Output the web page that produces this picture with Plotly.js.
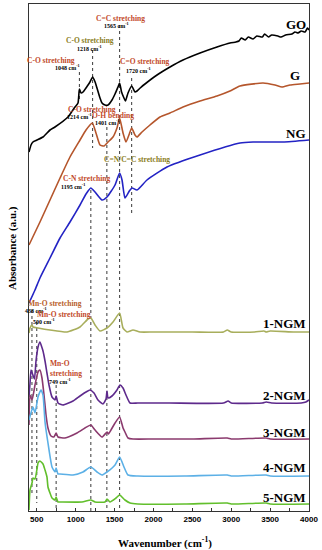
<!DOCTYPE html>
<html><head><meta charset="utf-8">
<script src="https://cdn.plot.ly/plotly-3.0.1.min.js"></script>
<style>html,body{margin:0;padding:0;background:#fff;} #chart{width:322px;height:550px;}</style>
</head><body><div id="chart"></div>
<script>
// ---- data (wavenumber in cm-1, absorbance in arbitrary units) ----
const goWn  = [400,426,451,580,670,734,901,991,1030,1048,1070,1094,1150,1184,1218,1250,1274,1313,1339,1377,1416,1467,1506,1544,1565,1590,1621,1640,1673,1720,1763,1789,1830,1891,2046,2213,2380,2599,2817,2984,3060,3100,3130,3180,3220,3280,3330,3400,3430,3480,3520,3600,3640,3700,3780,3820,3860,3900,3950,3980,4000];
const goAbs = [359,366,369,374,381,384,394,404,408,422,418,419,425,429,434,429,423,413,408,406,406,411,417,424,428,419,413,410,418,425,419,420,423,427,436,444,451,458,464,468,469,470,473,471,474,472,475,474,477,474,476,475,474,476,477,479,478,480,479,483,481];

const gWn  = [400,541,670,799,927,1056,1133,1214,1261,1313,1364,1416,1480,1531,1565,1609,1647,1690,1720,1763,1789,1853,1956,2084,2213,2380,2599,2817,2984,3113,3409,3563,3653,3756,3884,4000];
const gAbs = [266,289,311,333,354,371,381,388,378,366,365,369,374,383,393,378,369,377,383,376,374,379,386,394,398,404,410,415,420,425,428,426,424,426,427,428];

const ngWn  = [400,477,541,670,799,927,1056,1133,1195,1249,1339,1403,1506,1565,1596,1634,1690,1724,1789,1917,2174,2599,3113,3280,3666,4000];
const ngAbs = [208,221,233,253,273,289,306,317,323,319,311,314,326,338,331,313,320,323,321,331,344,356,368,369,369,371];

const ngm1Wn  = [400,413,439,451,516,670,889,1056,1159,1195,1249,1313,1403,1480,1565,1609,1660,1737,1827,2000,2500,2900,2950,3000,3300,3420,3450,3500,3800,4000];
const ngm1Abs = [178,183,186,184,183,181,179,184,192,193,186,180,183,189,198,183,179,181,179,179,179,179,181,179,179,180,179,180,179,179];

const ngm2Wn  = [400,413,426,445,470,490,516,541,560,580,606,631,657,696,734,749,773,837,966,1056,1133,1184,1236,1287,1351,1390,1403,1416,1467,1531,1570,1609,1647,1699,1800,2200,2900,2960,3000,3400,3450,3520,3900,3960,4000];
const ngm2Abs = [114,128,141,137,132,150,164,169,165,160,150,138,126,114,111,115,108,106,110,115,119,121,118,111,107,112,120,113,115,121,126,123,116,108,108,108,108,110,108,108,109,108,108,109,111];

const ngm3Wn  = [400,413,439,477,516,541,567,593,619,644,683,720,749,773,863,1017,1120,1195,1249,1339,1390,1405,1420,1506,1565,1609,1634,1673,1737,2000,2500,2950,3000,3450,3500,4000];
const ngm3Abs = [86,116,111,126,139,141,133,116,96,83,75,74,78,74,73,78,83,86,81,74,78,79,77,88,94,83,79,73,72,72,72,73,72,73,72,72];

const ngm4Wn  = [400,451,477,516,554,580,606,644,696,734,749,773,799,966,1094,1195,1274,1339,1403,1506,1565,1621,1673,1800,2400,2950,3000,3450,3500,4000];
const ngm4Abs = [91,104,98,114,121,116,89,68,44,39,43,37,37,36,39,44,39,36,39,46,54,44,36,35,35,36,35,36,35,35];

const ngm5Wn  = [400,413,439,451,477,503,516,541,580,606,631,644,670,696,734,749,773,799,1081,1195,1249,1377,1403,1441,1519,1565,1634,1699,1800,2400,2950,3000,3450,3500,4000];
const ngm5Abs = [1,21,28,33,32,42,48,50,47,41,34,24,18,13,11,14,9,9,9,11,9,9,12,9,13,16,11,8,7,7,8,7,8,7,7];

// reference (dotted) lines: wavenumber, upper and lower absorbance extent
const refWn     = [1048,1218,1565,1720,1401,1195,438,500,749];
const refTop    = [439,461,486,433,384,321,201,189,126];
const refBottom = [411,363,0,296,0,0,18,8,0];

const seriesNames = ['GO','G','NG','1-NGM','2-NGM','3-NGM','4-NGM','5-NGM'];
// ---------------------------------------------------------------

const colors = ['#000000','#b5562c','#2323c4','#a8ae5c','#5e2a8c','#8b3a6e','#5cb0e6','#62bf2c'];
const xs = [goWn,gWn,ngWn,ngm1Wn,ngm2Wn,ngm3Wn,ngm4Wn,ngm5Wn];
const ys = [goAbs,gAbs,ngAbs,ngm1Abs,ngm2Abs,ngm3Abs,ngm4Abs,ngm5Abs];

const traces = [];
refWn.forEach((w,i)=>{
  traces.push({x:[w,w], y:[refTop[i],refBottom[i]], mode:'lines', hoverinfo:'skip',
    line:{color:'#222', width:0.9, dash:'dot'}, showlegend:false});
});
seriesNames.forEach((n,i)=>{
  traces.push({x:xs[i], y:ys[i], name:n, mode:'lines',
    line:{color:colors[i], width:1.6, shape:'spline', smoothing:0.5}, showlegend:false});
});

const serif = 'Liberation Serif, Times New Roman, serif';
const ann = [];
// curve labels
const labelVals = [487,436,378,188,116,79,44,14];
const labelShift = [-1,-7,-1,-1,-1,-1,-1,-1];
seriesNames.forEach((n,i)=>{
  ann.push({xref:'paper', x:1, xanchor:'right', xshift:labelShift[i], y:labelVals[i], yref:'y', yanchor:'middle',
    text:'<b>'+n+'</b>', showarrow:false, font:{family:serif, size:13, color:'#000'}});
});
const red = '#c24a2a', olive = '#8a7d22';
function note(t, x, y, c, s){
  ann.push({x:x, y:y, xref:'x', yref:'y', xanchor:'center', yanchor:'middle', showarrow:false,
    text:'<b>'+t+'</b>', font:{family:serif, size:s, color:c}});
}
const cm = ' cm<sup>-1</sup>';
note('C=C stretching', 1576, 493, red, 7.5);
note('1565'+cm, 1519, 486, '#000', 6);
note('C-O stretching', 1184, 471, olive, 7.5);
note('1218'+cm, 1184, 463.5, '#000', 6);
note('C-O stretching', 683, 451, red, 7.5);
note('1048'+cm, 895, 444, '#000', 6);
note('C=O stretching', 1891, 450, red, 7.5);
note('1720'+cm, 1808, 441, '#000', 6);
note('C-O stretching', 1204, 402, red, 7.5);
note('1214'+cm, 1043, 395, '#000', 6);
note('O-H bending', 1480, 396, red, 7.5);
note('1401'+cm, 1409, 389, '#000', 6);
note('C=N/C=C stretching', 1788, 352, olive, 7.5);
note('C-N stretching', 1140, 333, red, 7.5);
note('1195'+cm, 972, 325, '#000', 6);
note('Mn-O stretching', 734, 208, '#b8602a', 7.5);
note('438'+cm, 496, 201.5, '#000', 6);
note('Mn-O stretching', 850, 197, red, 7.5);
note('500'+cm, 593, 190, '#000', 6);
note('Mn-O', 799, 148, red, 7.5);
note('stretching', 876, 138, red, 7.5);
note('749'+cm, 799, 130, '#000', 6);
// axis titles
ann.push({xref:'paper', yref:'paper', x:0.5, y:0, xshift:-4, yshift:-31, xanchor:'center', yanchor:'middle',
  showarrow:false, text:'<b>Wavenumber (cm<sup>-1</sup>)</b>', font:{family:serif, size:11, color:'#000'}});
ann.push({xref:'paper', yref:'y', x:0, y:263, xshift:-17, xanchor:'center', yanchor:'middle', textangle:-90,
  showarrow:false, text:'<b>Absorbance (a.u.)</b>', font:{family:serif, size:11, color:'#000'}});

const layout = {
  width:322, height:550,
  margin:{l:29, r:13, t:4, b:39, pad:0},
  paper_bgcolor:'#fff', plot_bgcolor:'#fff',
  showlegend:false,
  xaxis:{range:[400,4000], dtick:500, tick0:0, ticks:'inside', ticklen:3, tickwidth:1, tickcolor:'#333',
    minor:{dtick:250, ticks:'inside', ticklen:3, tickcolor:'#333'},
    showline:true, linecolor:'#333', linewidth:1, mirror:true, showgrid:false, zeroline:false,
    automargin:false, tickfont:{family:'Liberation Sans, Arial, sans-serif', size:8, weight:'bold', color:'#000'}},
  yaxis:{range:[0,507], showticklabels:false, ticks:'', showline:true, linecolor:'#333', linewidth:1,
    mirror:true, showgrid:false, zeroline:false, automargin:false},
  annotations:ann
};
Plotly.newPlot('chart', traces, layout, {staticPlot:true, displayModeBar:false});
</script>
</body></html>
